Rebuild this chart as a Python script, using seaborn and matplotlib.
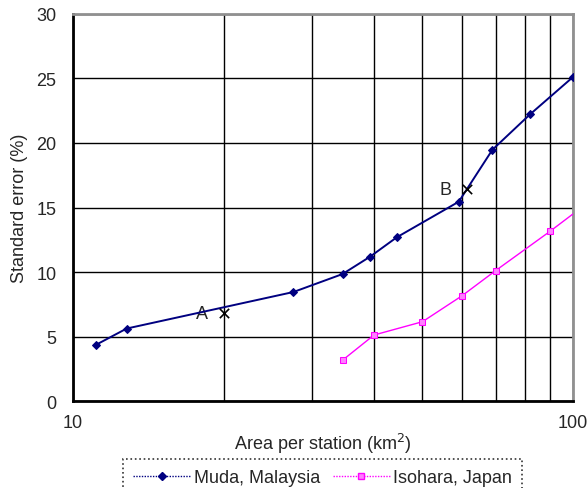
import matplotlib
matplotlib.use("Agg")
import matplotlib.pyplot as plt
import seaborn as sns
import pandas as pd
from matplotlib.lines import Line2D

# Standard error of areal rainfall estimate vs. gauge density
muda_area = [11.1, 12.8, 27.6, 34.6, 39.3, 44.4, 59.1, 69.0, 82.0, 100.0]
muda_error = [4.36, 5.63, 8.46, 9.85, 11.2, 12.69, 15.45, 19.47, 22.2, 25.1]

isohara_area = [34.7, 40.0, 50.0, 60.0, 70.0, 90.0, 100.0]
isohara_error = [3.22, 5.13, 6.16, 8.17, 10.11, 13.16, 14.5]

# Annotated points A and B
point_labels = ["A", "B"]
point_area = [20.0, 61.5]
point_error = [6.83, 16.4]

FS = 13

sns.set_style("white")
plt.rcParams["font.family"] = ["Liberation Sans", "DejaVu Sans"]

fig = plt.figure(figsize=(5.87, 4.89), dpi=100)
ax = fig.add_axes([0.1244, 0.1773, 0.8517, 0.7926])

muda = pd.DataFrame({"area": muda_area, "error": muda_error})
iso = pd.DataFrame({"area": isohara_area, "error": isohara_error})

sns.lineplot(data=muda, x="area", y="error", ax=ax, color="#000080",
             linewidth=1.4, marker="D", markersize=4.5,
             markerfacecolor="#000080", markeredgecolor="#000080",
             label="Muda, Malaysia", zorder=4)
sns.lineplot(data=iso, x="area", y="error", ax=ax, color="#FF00FF",
             linewidth=1.0, marker="s", markersize=5,
             markerfacecolor="#FF80FF", markeredgecolor="#FF00FF",
             markevery=list(range(len(isohara_area) - 1)),
             label="Isohara, Japan", zorder=4)

sns.scatterplot(x=point_area, y=point_error, ax=ax, marker="x", color="black",
                s=45, linewidth=1.2, zorder=5, legend=False)
for lab, xa, ye in zip(point_labels, point_area, point_error):
    ax.text(xa * 0.905, ye, lab, fontsize=FS, ha="center", va="center")

ax.set_xscale("log")
ax.set_xlim(10, 100)
ax.set_ylim(0, 30)
ax.set_yticks(range(0, 31, 5))
ax.set_xticks([10, 100])
ax.set_xticklabels(["10", "100"])
ax.set_xticks(range(20, 100, 10), minor=True)
ax.xaxis.set_minor_formatter(matplotlib.ticker.NullFormatter())

ax.grid(True, which="both", axis="x", color="black", linewidth=1.0)
ax.grid(True, which="major", axis="y", color="black", linewidth=1.0)
ax.set_axisbelow(True)
ax.tick_params(which="both", length=0, labelsize=FS)
ax.tick_params(axis="y", pad=12)
ax.tick_params(axis="x", pad=9)

for side in ["left", "bottom"]:
    ax.spines[side].set_color("black")
    ax.spines[side].set_linewidth(2.0)
for side in ["top", "right"]:
    ax.spines[side].set_color("#909090")
    ax.spines[side].set_linewidth(2.0)

ax.set_xlabel("Area per station (km$^2$)", fontsize=FS, labelpad=0)
ax.set_ylabel("Standard error (%)", fontsize=FS, labelpad=6)

ax.get_legend().remove()
handles = [
    Line2D([], [], color="#000080", linewidth=1.0, linestyle=(0, (1, 1)),
           marker="D", markersize=4.5, markerfacecolor="#000080"),
    Line2D([], [], color="#FF00FF", linewidth=1.0, linestyle=(0, (1, 1)),
           marker="s", markersize=5, markerfacecolor="#FF80FF"),
]
leg = fig.legend(handles, ["Muda, Malaysia", "Isohara, Japan"], ncol=2,
                 loc="upper center", bbox_to_anchor=(0.5494, 0.0593),
                 borderaxespad=0.0,
                 fontsize=FS, frameon=True, fancybox=False,
                 handlelength=3.2, handletextpad=0.15, columnspacing=0.7,
                 borderpad=0.55)
leg.get_frame().set_edgecolor("black")
leg.get_frame().set_linestyle(":")
leg.get_frame().set_linewidth(1.2)

fig.savefig("out.png", dpi=100)
